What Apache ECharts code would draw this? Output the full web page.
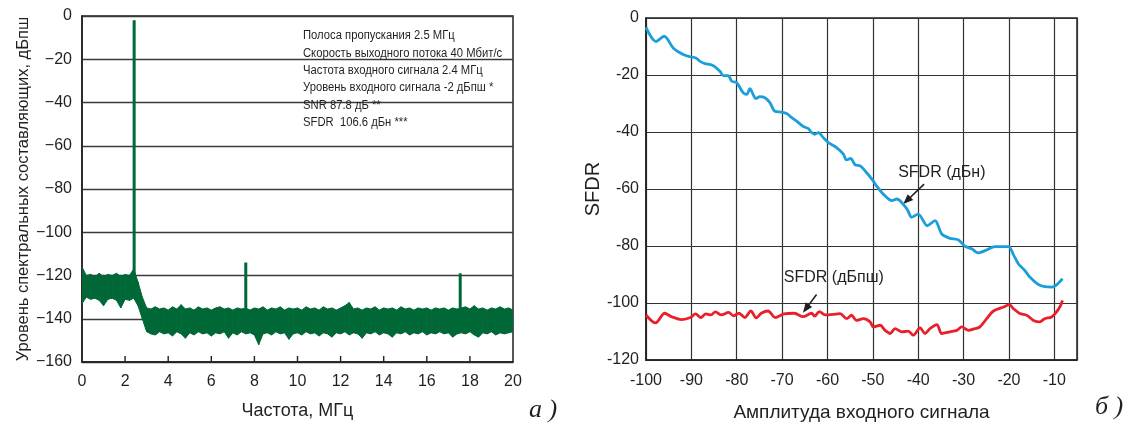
<!DOCTYPE html>
<html>
<head>
<meta charset="utf-8">
<title>Спектр АЦП и SFDR</title>
<script src="https://cdn.jsdelivr.net/npm/echarts/dist/echarts.min.js"></script>
<style>
html, body { margin: 0; padding: 0; background: #fff; }
#chart { width: 1131px; height: 427px; }
</style>
</head>
<body>
<div id="chart"></div>
<script>
// а) спектр: шумовая полоса (верх/низ огибающей), шаг 0.2 МГц от 0 до 20
var noiseStep = 0.2
var noiseTop = [
  -116, -120, -119.5, -120.5, -119, -120.5, -119.5, -120, -119, -120.5,
  -119.5, -120, -117, -123, -130, -135, -135.5, -134.5, -135.5, -135,
  -136, -134.5, -135.5, -133.5, -135.5, -135, -136, -134.5, -135.5, -135,
  -136, -135, -134.5, -135.5, -135, -136, -135, -135.5, -135, -136,
  -135, -135.5, -134.5, -136, -135, -135.5, -134.5, -136, -135, -135.5,
  -135, -136, -134.5, -135.5, -135, -136, -134.5, -135.5, -135, -136,
  -135, -134, -132.5, -135.5, -135, -136, -135, -135.5, -134.5, -136,
  -135, -135.5, -135, -136, -134.5, -135.5, -135, -136, -135, -135.5,
  -135, -136, -135, -135.5, -135, -136, -135, -135.5, -135, -134.5,
  -135.5, -134, -135.5, -135, -136, -135, -135.5, -134.5, -135.5, -135,
  -136
]
var noiseBottom = [
  -133, -130, -131, -130.5, -131.5, -134, -131, -130.5, -131.5, -135,
  -131, -131.5, -130.5, -134, -140, -146, -147, -147.5, -146, -147,
  -146.5, -148, -146, -147, -149, -146.5, -147.5, -146, -147, -146.5,
  -148, -146.5, -147, -146, -149, -146.5, -147.5, -146, -147, -146.5,
  -147.5, -152, -147, -146.5, -147.5, -146, -147, -146.5, -149.5, -147,
  -146.5, -147.5, -146, -147, -146.5, -148, -146.5, -147, -148.5, -146.5,
  -147, -146, -147.5, -146.5, -147, -149, -146.5, -147, -146, -147.5,
  -146.5, -147, -148.5, -146.5, -147, -146, -147.5, -146.5, -147, -146,
  -147.5, -146.5, -147, -146, -147, -146.5, -148.5, -147, -146.5, -147,
  -146, -147.5, -148.5, -146.5, -147, -146, -147.5, -146.5, -147, -146.5,
  -146
]
// основной тон и паразитные составляющие
var spurFreq = [2.42, 7.6, 17.55]
var spurPeak = [-2, -114, -119]
var spurBase = [-125, -135, -135]

// деления оси частот (рисуются внутрь поля)
var freqTicks = [2, 4, 6, 8, 10, 12, 14, 16, 18]

var notes = [
  'Полоса пропускания 2.5 МГц',
  'Скорость выходного потока 40 Мбит/с',
  'Частота входного сигнала 2.4 МГц',
  'Уровень входного сигнала -2 дБпш *',
  'SNR 87.8 дБ **',
  'SFDR  106.6 дБн ***'
]

// б) SFDR от амплитуды входного сигнала
var dbcX = [
  -100, -97.8, -96.0, -94.0, -91.8, -90.3, -89.0, -88.1, -87.0, -85.9,
  -85.0, -83.7, -83.0, -81.9, -81.1, -80.0, -78.6, -77.8, -77.1, -76.4,
  -75.8, -74.9, -73.8, -72.7, -71.6, -70.1, -69.0, -68.3, -66.8, -65.3,
  -64.2, -63.5, -62.8, -62.0, -60.9, -59.8, -58.0, -56.5, -55.8, -54.9,
  -53.9, -52.8, -51.4, -50.0, -49.2, -47.7, -45.8, -44.7, -42.5, -41.4,
  -40.0, -38.0, -36.3, -34.8, -33.0, -31.2, -29.7, -28.2, -26.8, -24.9,
  -23.1, -20.1, -19.0, -17.9, -16.5, -15.4, -13.2, -10.6, -9.5, -8.2
]
var dbcY = [
  -3.3, -8.2, -6.4, -10.5, -12.8, -13.6, -14.0, -15.2, -16.0, -16.3,
  -16.9, -18.7, -20.2, -20.2, -22.2, -22.7, -26.2, -26.8, -24.8, -26.8,
  -28.3, -27.6, -28.0, -29.7, -32.7, -33.0, -33.5, -34.4, -36.2, -38.1,
  -38.8, -40.2, -40.8, -40.2, -42.0, -43.7, -45.5, -47.8, -49.8, -49.3,
  -51.5, -51.9, -54.2, -57.0, -58.9, -61.8, -64.1, -63.5, -67.0, -69.9,
  -68.8, -72.9, -71.1, -75.8, -77.3, -77.8, -80.1, -81.0, -82.4, -81.4,
  -80.2, -80.2, -83.1, -86.3, -88.6, -90.9, -93.8, -94.4, -93.6, -91.5
]
var dbfsX = [
  -100, -97.9, -95.9, -94.4, -92.1, -90.2, -89.1, -87.9, -86.8, -85.7,
  -84.7, -83.4, -81.8, -80.7, -79.5, -78.2, -76.9, -75.7, -74.6, -73.1,
  -71.5, -69.6, -67.3, -65.4, -63.5, -62.8, -61.8, -60.5, -58.2, -57.2,
  -55.8, -54.7, -53.6, -52.1, -50.6, -49.9, -48.4, -47.3, -46.2, -45.1,
  -43.6, -42.2, -41.1, -39.6, -38.5, -37.4, -35.9, -34.8, -33.0, -31.5,
  -30.4, -28.9, -27.5, -26.4, -24.9, -23.5, -21.2, -19.9, -19.0, -17.6,
  -16.1, -14.6, -13.2, -12.1, -10.6, -9.5, -8.6, -8.2
]
var dbfsY = [
  -104.2, -107.0, -103.6, -104.8, -105.8, -105.1, -103.8, -105.1, -103.8, -104.2,
  -103.1, -104.2, -103.3, -104.5, -103.6, -105.1, -102.8, -105.2, -103.6, -102.8,
  -105.1, -103.8, -103.6, -104.8, -103.6, -104.6, -103.0, -104.2, -103.9, -103.7,
  -105.5, -104.3, -106.1, -105.5, -106.6, -108.4, -107.8, -109.6, -110.7, -109.0,
  -110.1, -109.9, -111.3, -108.7, -110.7, -109.0, -107.6, -110.7, -110.1, -109.6,
  -108.4, -109.6, -109.0, -108.4, -105.5, -102.9, -101.4, -100.6, -102.0, -103.7,
  -104.3, -106.1, -106.6, -105.5, -104.9, -103.1, -100.8, -99.1
]

var ink = '#231f20'
var green = '#006837'
var sans = "'Liberation Sans', Arial, sans-serif"

function zip (a, b) {
  return a.map(function (v, i) { return [v, b[i]] })
}

// полоса шума: четырёхугольник между соседними отсчётами огибающих
function renderBand (params, api) {
  var i = params.dataIndex
  if (i >= noiseTop.length - 1) return
  var f0 = api.value(0)
  var f1 = f0 + noiseStep
  var pts = [
    api.coord([f0, noiseTop[i]]),
    api.coord([f1, noiseTop[i + 1]]),
    api.coord([f1, noiseBottom[i + 1]]),
    api.coord([f0, noiseBottom[i]])
  ]
  return {
    type: 'polygon',
    shape: { points: pts },
    style: { fill: green, stroke: green, lineWidth: 1 }
  }
}

function renderSpur (params, api) {
  var top = api.coord([api.value(0), api.value(1)])
  var bot = api.coord([api.value(0), api.value(2)])
  return {
    type: 'rect',
    shape: { x: top[0] - 1.5, y: top[1], width: 3, height: bot[1] - top[1] },
    style: { fill: green }
  }
}

var axisText = { color: ink, fontSize: 16, fontFamily: sans }

var option = {
  animation: false,
  backgroundColor: '#fff',
  grid: [
    { left: 82, top: 16, width: 431, height: 346, show: true, borderColor: ink, borderWidth: 1.5 },
    { left: 646, top: 18, width: 431, height: 343, show: true, borderColor: ink, borderWidth: 1.5 }
  ],
  xAxis: [{
    gridIndex: 0,
    type: 'value',
    position: 'bottom',
    min: 0,
    max: 20,
    interval: 2,
    name: 'Частота, МГц',
    nameLocation: 'middle',
    nameGap: 40,
    nameTextStyle: { color: ink, fontSize: 18, fontFamily: sans },
    axisLine: { show: true, onZero: false, lineStyle: { color: ink, width: 1.5 } },
    axisTick: { show: false },
    axisLabel: Object.assign({ margin: 12 }, axisText),
    splitLine: { show: false }
  }, {
    gridIndex: 1,
    type: 'value',
    position: 'bottom',
    min: -100,
    max: -5,
    interval: 10,
    name: 'Амплитуда входного сигнала',
    nameLocation: 'middle',
    nameGap: 43,
    nameTextStyle: { color: ink, fontSize: 19, fontFamily: sans },
    axisLine: { onZero: false, lineStyle: { color: ink, width: 1.5 } },
    axisTick: { show: false },
    axisLabel: Object.assign({
      margin: 13,
      formatter: function (v) { return v === -5 ? '' : String(v) }
    }, axisText),
    splitLine: { lineStyle: { color: '#333', width: 1.2 } }
  }],
  yAxis: [{
    gridIndex: 0,
    type: 'value',
    position: 'left',
    min: -160,
    max: 0,
    interval: 20,
    name: 'Уровень спектральных составляющих, дБпш',
    nameLocation: 'middle',
    nameRotate: 90,
    nameGap: 50,
    nameTextStyle: { color: ink, fontSize: 16.5, fontFamily: sans },
    axisLine: { onZero: false, lineStyle: { color: ink, width: 1.5 } },
    axisTick: { show: false },
    axisLabel: Object.assign({
      margin: 10,
      formatter: function (v) { return String(v).replace('-', '\u2212') }
    }, axisText),
    splitLine: { lineStyle: { color: '#3a3a3a', width: 1.4 } }
  }, {
    gridIndex: 1,
    type: 'value',
    position: 'left',
    min: -120,
    max: 0,
    interval: 20,
    name: 'SFDR',
    nameLocation: 'middle',
    nameRotate: 90,
    nameGap: 30,
    nameTextStyle: { color: ink, fontSize: 20, fontFamily: sans },
    axisLine: { onZero: false, lineStyle: { color: ink, width: 1.5 } },
    axisTick: { show: false },
    axisLabel: Object.assign({ margin: 7 }, axisText),
    splitLine: { lineStyle: { color: '#333', width: 1.2 } }
  }],
  series: [{
    type: 'custom',
    name: 'шум',
    xAxisIndex: 0,
    yAxisIndex: 0,
    renderItem: renderBand,
    encode: { x: 0, y: [1, 2] },
    clip: true,
    data: noiseTop.map(function (t, i) { return [i * noiseStep, t, noiseBottom[i]] })
  }, {
    type: 'custom',
    name: 'тон',
    xAxisIndex: 0,
    yAxisIndex: 0,
    renderItem: renderSpur,
    encode: { x: 0, y: [1, 2] },
    data: spurFreq.map(function (f, i) { return [f, spurPeak[i], spurBase[i]] })
  }, {
    type: 'line',
    name: 'SFDR (дБн)',
    xAxisIndex: 1,
    yAxisIndex: 1,
    data: zip(dbcX, dbcY),
    showSymbol: false,
    smooth: 0.3,
    lineStyle: { color: '#1a9fda', width: 2.8 }
  }, {
    type: 'line',
    name: 'SFDR (дБпш)',
    xAxisIndex: 1,
    yAxisIndex: 1,
    data: zip(dbfsX, dbfsY),
    showSymbol: false,
    smooth: 0.3,
    lineStyle: { color: '#e8202a', width: 2.8 }
  }]
}

var chart = echarts.init(document.getElementById('chart'))
chart.setOption(option)

// подписи со стрелками на графике б) в координатах данных
var callouts = [
  { text: 'SFDR (дБн)', label: [-34.8, -54.4], from: [-38.7, -58.3], to: [-43.3, -65.3] },
  { text: 'SFDR (дБпш)', label: [-58.6, -91.2], from: [-62.4, -97.0], to: [-65.4, -103.4] }
]

var graphics = [{
  // узкий шрифт имитируем сжатием по горизонтали
  type: 'text',
  x: 303,
  y: 27,
  scaleX: 0.9,
  style: {
    x: 0,
    y: 0,
    text: notes.join('\n'),
    lineHeight: 17.4,
    fill: ink,
    fontSize: 12.5,
    fontFamily: sans,
    verticalAlign: 'top'
  }
}, {
  type: 'text',
  style: { x: 543, y: 410, text: 'a )', fill: ink, fontSize: 26, fontStyle: 'italic', fontFamily: "'Liberation Serif', serif", align: 'center', verticalAlign: 'middle' }
}, {
  type: 'text',
  style: { x: 1109, y: 407, text: 'б )', fill: ink, fontSize: 26, fontStyle: 'italic', fontFamily: "'Liberation Serif', serif", align: 'center', verticalAlign: 'middle' }
}]

// короткие деления внутрь поля у нижней оси графика а)
freqTicks.forEach(function (v) {
  var b = chart.convertToPixel({ xAxisIndex: 0, yAxisIndex: 0 }, [v, -160])
  graphics.push({
    type: 'line',
    shape: { x1: b[0], y1: b[1], x2: b[0], y2: b[1] - 6 },
    style: { stroke: ink, lineWidth: 1.4 }
  })
})

callouts.forEach(function (c) {
  var p = chart.convertToPixel({ xAxisIndex: 1, yAxisIndex: 1 }, c.label)
  var s = chart.convertToPixel({ xAxisIndex: 1, yAxisIndex: 1 }, c.from)
  var t = chart.convertToPixel({ xAxisIndex: 1, yAxisIndex: 1 }, c.to)
  var dx = t[0] - s[0]
  var dy = t[1] - s[1]
  var len = Math.sqrt(dx * dx + dy * dy)
  var ux = dx / len
  var uy = dy / len
  graphics.push({
    type: 'text',
    style: { x: p[0], y: p[1], text: c.text, fill: ink, fontSize: 16, fontFamily: sans, align: 'center', verticalAlign: 'middle' }
  })
  graphics.push({
    type: 'line',
    shape: { x1: s[0], y1: s[1], x2: t[0] - ux * 6, y2: t[1] - uy * 6 },
    style: { stroke: ink, lineWidth: 1.6 }
  })
  graphics.push({
    type: 'polygon',
    shape: {
      points: [
        [t[0], t[1]],
        [t[0] - ux * 10 - uy * 4, t[1] - uy * 10 + ux * 4],
        [t[0] - ux * 10 + uy * 4, t[1] - uy * 10 - ux * 4]
      ]
    },
    style: { fill: ink }
  })
})

chart.setOption({ graphic: graphics })
</script>
</body>
</html>
